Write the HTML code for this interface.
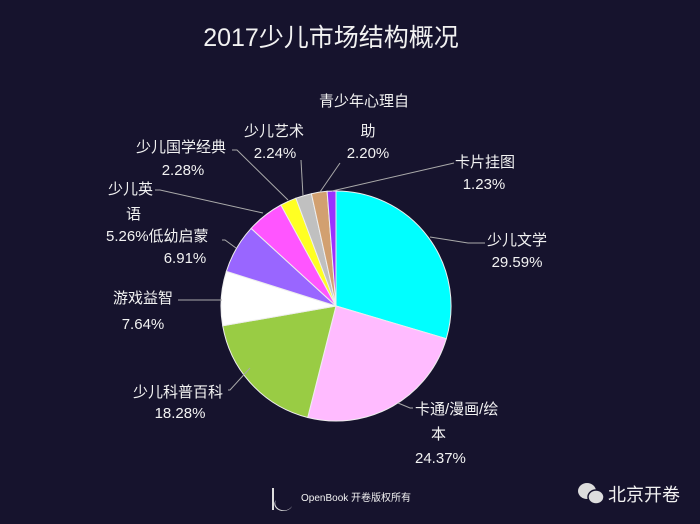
<!DOCTYPE html>
<html><head><meta charset="utf-8"><style>
html,body{margin:0;padding:0;background:#16132d;}
svg{display:block}
text{font-family:"Liberation Sans","Noto Sans CJK SC",sans-serif;fill:#f2f2f2;font-size:15px}
</style></head><body>
<svg width="700" height="524" viewBox="0 0 700 524">
<rect width="700" height="524" fill="#16132d"/>
<text x="331" y="46" text-anchor="middle" style="font-size:25px">2017少儿市场结构概况</text>
<g stroke="#eee" stroke-width="1">
<path d="M336,306 L336,191 A115,115 0 0 1 446.3,338.7 Z" fill="#00ffff"/>
<path d="M336,306 L446.3,338.7 A115,115 0 0 1 307.7,417.5 Z" fill="#ffbbff"/>
<path d="M336,306 L307.7,417.5 A115,115 0 0 1 222.7,325.8 Z" fill="#99cc44"/>
<path d="M336,306 L222.7,325.8 A115,115 0 0 1 226.4,271.3 Z" fill="#ffffff"/>
<path d="M336,306 L226.4,271.3 A115,115 0 0 1 251.1,228.4 Z" fill="#9966ff"/>
<path d="M336,306 L251.1,228.4 A115,115 0 0 1 280.9,205.0 Z" fill="#ff55ff"/>
<path d="M336,306 L280.9,205.0 A115,115 0 0 1 295.9,198.2 Z" fill="#ffff22"/>
<path d="M336,306 L295.9,198.2 A115,115 0 0 1 311.4,193.7 Z" fill="#c0c0c0"/>
<path d="M336,306 L311.4,193.7 A115,115 0 0 1 327.1,191.3 Z" fill="#d2a070"/>
<path d="M336,306 L327.1,191.3 A115,115 0 0 1 336,191 Z" fill="#9933ff"/>
</g>
<g stroke="#aaa" stroke-width="1" fill="none">
<polyline points="430,237 468,243 485,243"/>
<polyline points="398,403 410,408 413,408"/>
<polyline points="250,368 230,390 228,390"/>
<polyline points="222,300 178,300"/>
<polyline points="236,248 225,240 222,240"/>
<polyline points="263,213 160,190 155,190"/>
<polyline points="288,200 237,150 232,150"/>
<polyline points="303,196 301,160"/>
<polyline points="320,192 340,163"/>
<polyline points="332,191 454,163"/>
</g>
<text x="487" y="245">少儿文学</text><text x="517" y="267" text-anchor="middle">29.59%</text>
<text x="415" y="414">卡通/漫画/绘</text><text x="431" y="439">本</text><text x="415" y="463">24.37%</text>
<text x="133" y="397">少儿科普百科</text><text x="180" y="418" text-anchor="middle">18.28%</text>
<text x="113" y="303">游戏益智</text><text x="143" y="329" text-anchor="middle">7.64%</text>
<text x="106" y="241">5.26%低幼启蒙</text><text x="185" y="263" text-anchor="middle">6.91%</text>
<text x="108" y="194">少儿英</text><text x="126" y="219">语</text>
<text x="136" y="152">少儿国学经典</text><text x="183" y="175" text-anchor="middle">2.28%</text>
<text x="244" y="136">少儿艺术</text><text x="275" y="158" text-anchor="middle">2.24%</text>
<text x="319" y="106">青少年心理自</text><text x="368" y="136" text-anchor="middle">助</text><text x="368" y="158" text-anchor="middle">2.20%</text>
<text x="455" y="167">卡片挂图</text><text x="484" y="189" text-anchor="middle">1.23%</text>
<g fill="#ddd">
<rect x="272" y="488" width="2" height="22"/>
<path d="M276,500 a9,7 0 1 0 16,6 a6,5 0 1 1 -16,-6z"/>
</g>
<text x="301" y="501" style="font-size:10px">OpenBook 开卷版权所有</text>
<g fill="#ddd">
<ellipse cx="587" cy="491" rx="9" ry="8"/>
<ellipse cx="596" cy="497" rx="8" ry="7" stroke="#16132d" stroke-width="1.5"/>
</g>
<text x="608" y="501" style="font-size:18px">北京开卷</text>
</svg>
</body></html>
